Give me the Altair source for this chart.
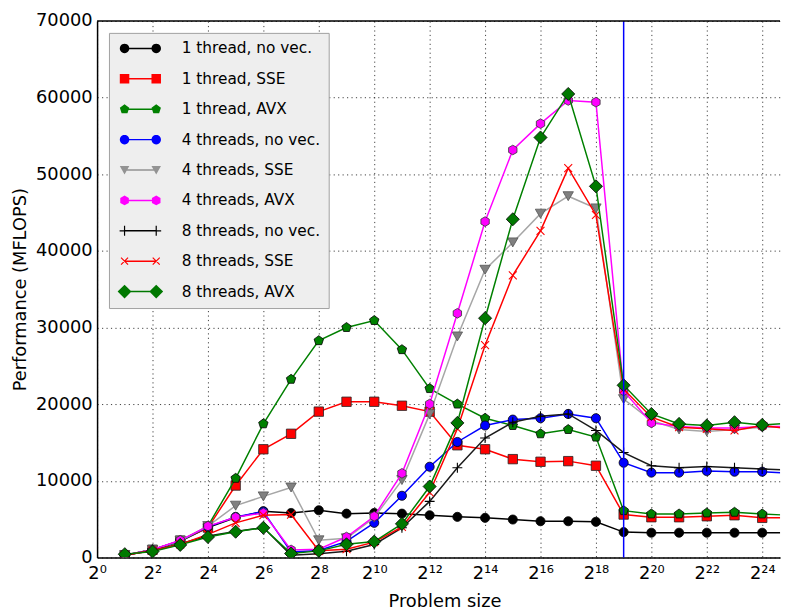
import math
import altair as alt
import pandas as pd

# ---------------- data ----------------
exponents = list(range(1, 26))  # problem size = 2**e

series_names = [
    "1 thread, no vec.", "1 thread, SSE", "1 thread, AVX",
    "4 threads, no vec.", "4 threads, SSE", "4 threads, AVX",
    "8 threads, no vec.", "8 threads, SSE", "8 threads, AVX",
]

t1_novec = [300, 1000, 2100, 3900, 5200, 6030, 5810, 6160, 5720, 5810, 5720, 5510, 5300,
            5170, 4950, 4730, 4730, 4650, 3310, 3230, 3230, 3230, 3230, 3230, 3230]
t1_sse = [300, 1000, 2200, 3900, 9390, 14120, 16140, 19030, 20320, 20320, 19800, 19030, 14640,
          14120, 12830, 12490, 12570, 11970, 5600, 5250, 5250, 5380, 5510, 5170, 5200]
t1_avx = [300, 1000, 2100, 4100, 10330, 17440, 23250, 28290, 30010, 30920, 27120, 22040, 20020,
          18170, 17220, 16140, 16700, 15710, 6110, 5680, 5680, 5810, 5900, 5680, 5500]
t4_novec = [300, 1000, 2200, 4000, 5300, 6000, 700, 900, 2100, 4520, 8050, 11840, 15070,
            17220, 17990, 18170, 18730, 18170, 12360, 11070, 11070, 11280, 11190, 11190, 11000]
t4_sse = [300, 1000, 2200, 4100, 6760, 7970, 9130, 2240, 2500, 5200, 10100, 18700, 28840,
          37540, 41110, 44860, 47140, 45550, 20660, 17870, 16700, 16440, 16700, 17000, 17000]
t4_avx = [300, 1000, 2240, 4090, 5250, 5810, 990, 1080, 2670, 5380, 10980, 20020, 31860,
          43830, 53170, 56610, 59630, 59410, 21740, 17560, 17100, 16900, 16900, 17100, 17100]
t8_novec = [300, 900, 1800, 2800, 3400, 3900, 300, 500, 800, 1700, 3870, 7320, 11710,
            15580, 17650, 18430, 18730, 16570, 13690, 11970, 11710, 11880, 11710, 11540, 11400]
t8_sse = [300, 900, 1700, 3010, 4520, 5510, 5600, 870, 1070, 2000, 4000, 8500, 16800,
          27700, 36810, 42620, 50800, 44690, 21950, 18300, 17000, 16790, 16570, 17220, 16790]
t8_avx = [430, 780, 1640, 2670, 3360, 3870, 520, 860, 1720, 2070, 4390, 9260, 17560,
          31220, 44130, 54800, 60480, 48430, 22470, 18730, 17430, 17220, 17650, 17300, 17500]

series_values = [t1_novec, t1_sse, t1_avx, t4_novec, t4_sse, t4_avx, t8_novec, t8_sse, t8_avx]

x_tick_exponents = list(range(0, 25, 2))
x_tick_labels = ["2⁰", "2²", "2⁴", "2⁶", "2⁸", "2¹⁰", "2¹²", "2¹⁴", "2¹⁶",
                 "2¹⁸", "2²⁰", "2²²", "2²⁴"]
y_ticks = [0, 10000, 20000, 30000, 40000, 50000, 60000, 70000]
cache_limit_exponent = [19]

# ---------------- styles ----------------
line_colors = ["#000000", "#ff0000", "#008000", "#0000ff", "#a6a6a6",
               "#ff00ff", "#1a1a1a", "#ff0000", "#008000"]
marker_fill = ["#000000", "#ff0000", "#008000", "#0000ff", "#808080",
               "#ff00ff", None, None, "#007800"]
marker_edge = ["#000000", "#222222", "#000000", "#000000", "#555555",
               "#333333", "#000000", "#ff0000", "#000000"]
marker_kind = ["circle", "square", "pentagon", "circle", "tri", "hexagon",
               "plus", "x", "diamond"]
marker_size = [85, 90, 100, 85, 110, 95, 100, 64, 175]


def regular(n, start_deg, r=1.0, cx=0.0):
    return [(cx + r * math.cos(math.radians(start_deg + 360.0 * k / n)),
             r * math.sin(math.radians(start_deg + 360.0 * k / n))) for k in range(n)]


def rect(cx, cy, hw, hh, ang=0.0):
    a = math.radians(ang)
    pts = []
    for (x, y) in [(-hw, -hh), (hw, -hh), (hw, hh), (-hw, hh)]:
        pts.append((cx + x * math.cos(a) - y * math.sin(a), cy + x * math.sin(a) + y * math.cos(a)))
    return pts


def poly(pts, unit=1.0):
    return "M" + "L".join(f"{x / unit:.3f},{y / unit:.3f}" for x, y in pts) + "Z"


plot_shapes = {
    "circle": "circle",
    "square": "square",
    "pentagon": poly(regular(5, -90)),
    "tri": "triangle-down",
    "hexagon": poly(regular(6, -90)),
    "plus": "M-1,0L1,0M0,-1L0,1",
    "x": "M-1,-1L1,1M-1,1L1,-1",
    "diamond": "diamond",
}

# legend symbols: short line with a marker at each end (matplotlib style)
LEG_SIZE = 196
U = math.sqrt(LEG_SIZE) / 2.0
DX = 16.0


def marker_polys(kind, cx):
    if kind == "circle":
        return [regular(24, 0, 4.8, cx)]
    if kind == "square":
        return [regular(4, 45, 4.8 * math.sqrt(2), cx)]
    if kind == "pentagon":
        return [regular(5, -90, 5.0, cx)]
    if kind == "tri":
        return [[(cx - 4.8, -4.0), (cx + 4.8, -4.0), (cx, 4.4)]]
    if kind == "hexagon":
        return [regular(6, -90, 5.0, cx)]
    if kind == "plus":
        return [rect(cx, 0, 5.0, 0.6), rect(cx, 0, 0.6, 5.0)]
    if kind == "x":
        return [rect(cx, 0, 5.0, 0.6, 45), rect(cx, 0, 5.0, 0.6, -45)]
    return [regular(4, 0, 7.0, cx)]


legend_paths = []
for kind in marker_kind:
    parts = [poly(rect(0, 0, DX, 0.75), U)]
    for cx in (-DX, DX):
        for p in marker_polys(kind, cx):
            parts.append(poly(p, U))
    legend_paths.append("".join(parts))

legend_colors = ["#000000", "#ff0000", "#008000", "#0000ff", "#939393",
                 "#ff00ff", "#000000", "#ff0000", "#007800"]

# ---------------- table ----------------
rows = []
for name, vals in zip(series_names, series_values):
    for e, v in zip(exponents, vals):
        rows.append({"series": name, "n": 2 ** e, "mflops": v})
df = pd.DataFrame(rows)
vline_df = pd.DataFrame({"n": [2 ** e for e in cache_limit_exponent]})
legend_keys = [f"k{i}" for i in range(len(series_names))]
legend_df = pd.DataFrame({"series": series_names, "key": legend_keys})

FONT = "DejaVu Sans"
PLOT_W, PLOT_H = 690, 542
x_scale = alt.Scale(type="log", base=2, domain=[1, 2 ** (PLOT_W / 28.0)], nice=False)
y_scale = alt.Scale(domain=[0, 70000], nice=False, zero=True)

label_js = "[" + ",".join("'" + s + "'" for s in x_tick_labels) + "]"

x_axis = alt.Axis(
    values=[2 ** e for e in x_tick_exponents],
    labelExpr=label_js + "[round(log(datum.value)/log(2)/2)]",
    labelFontSize=18, labelFont=FONT, labelColor="#000000", labelPadding=7,
    labelFlush=False, labelOverlap=False, labelBaseline="top",
    ticks=False, domainColor="#000000", domainWidth=1.5,
    grid=True, gridColor="#000000", gridOpacity=0.75, gridDash=[1.2, 3.3], gridWidth=1,
    title="Problem size", titleFontSize=18, titleFont=FONT, titleFontWeight="normal",
    titleColor="#000000", titleX=351, titleY=50, titleBaseline="alphabetic",
    titleAlign="center", titleAnchor="middle",
)
y_axis = alt.Axis(
    values=y_ticks, format="d",
    labelFontSize=18, labelFont=FONT, labelColor="#000000", labelPadding=5,
    ticks=False, domainColor="#000000", domainWidth=1.5,
    grid=True, gridColor="#000000", gridOpacity=0.75, gridDash=[1.2, 3.3], gridWidth=1,
    title="Performance (MFLOPS)", titleFontSize=18, titleFont=FONT, titleFontWeight="normal",
    titleColor="#000000", titlePadding=6,
)

X_main = alt.X("n:Q", scale=x_scale, axis=x_axis)
Y_main = alt.Y("mflops:Q", scale=y_scale, axis=y_axis)

layers = []
for i, name in enumerate(series_names):
    sub = alt.Chart(df).transform_filter(alt.datum.series == name)
    layers.append(sub.mark_line(color=line_colors[i], strokeWidth=1.5, clip=True)
                  .encode(x=X_main, y=Y_main))
    shape = plot_shapes[marker_kind[i]]
    if marker_fill[i] is None:
        pm = sub.mark_point(shape=shape, size=marker_size[i], filled=False,
                            stroke=marker_edge[i], strokeWidth=1.1, opacity=1, clip=True)
    else:
        pm = sub.mark_point(shape=shape, size=marker_size[i], filled=True,
                            fill=marker_fill[i], stroke=marker_edge[i], strokeWidth=0.8,
                            opacity=1, clip=True)
    layers.append(pm.encode(x=X_main, y=Y_main))

# cache-size marker line
layers.append(alt.Chart(vline_df).mark_rule(color="#0000ff", strokeWidth=1.5)
              .encode(x=X_main))
# top frame line at the top of the value range
layers.append(alt.Chart(vline_df).mark_rule(color="#000000", strokeWidth=1.5)
              .encode(y=alt.Y(datum=y_ticks[-1], type="quantitative", scale=y_scale,
                              axis=y_axis)))

# legend box with labels
legend_box = alt.Chart(legend_df).mark_point(opacity=0).encode(
    stroke=alt.Stroke("series:N", scale=alt.Scale(domain=series_names, range=line_colors),
                      legend=alt.Legend(
                          orient="top-left", offset=12, title=None, padding=8,
                          fillColor="#eeeeee", strokeColor="#a0a0a0",
                          symbolOpacity=0, symbolSize=1, symbolStrokeWidth=0,
                          labelFont=FONT, labelFontSize=15.5, labelColor="#000000",
                          labelOffset=50, rowPadding=13.7, labelLimit=300, zindex=1))
)
# legend symbols (line + two markers) drawn on top of the box, no text of their own
leg_c = alt.Legend(orient="none", legendX=28, legendY=12, title=None, padding=8,
                   symbolOpacity=1, symbolSize=LEG_SIZE, symbolStrokeWidth=0,
                   labelExpr="''", labelFontSize=15.5,
                   labelOffset=0, rowPadding=13.7, zindex=2)
legend_syms = alt.Chart(legend_df).mark_point(opacity=0, filled=True).encode(
    shape=alt.Shape("key:N", scale=alt.Scale(domain=legend_keys, range=legend_paths),
                    legend=leg_c),
    fill=alt.Fill("key:N", scale=alt.Scale(domain=legend_keys, range=legend_colors),
                  legend=leg_c),
)
layers += [legend_box, legend_syms]

chart = alt.layer(*layers).properties(
    width=PLOT_W, height=PLOT_H,
    autosize=alt.AutoSizeParams(type="none"),
    padding={"left": 90, "top": 10, "right": 4, "bottom": 57},
    background="#ffffff",
).configure_view(strokeWidth=0)

chart.save("out.html", embed_options={"renderer": "svg", "actions": False})
